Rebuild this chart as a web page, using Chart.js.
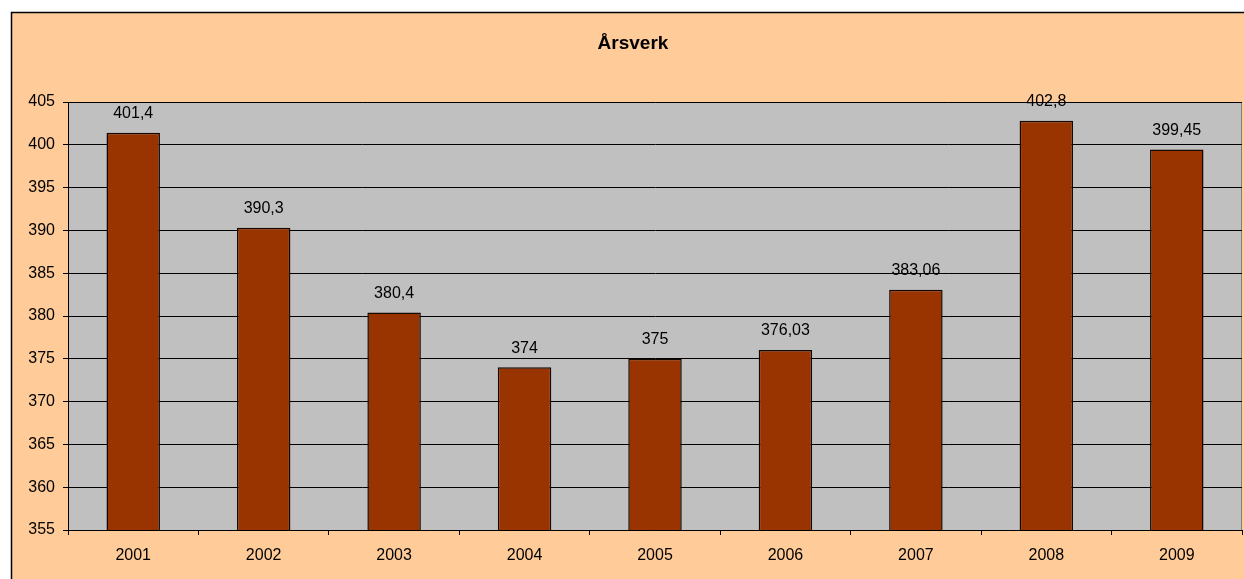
<!DOCTYPE html>
<html>
<head>
<meta charset="utf-8">
<script src="https://cdn.jsdelivr.net/npm/chart.js@4"></script>
<style>
  html, body { margin: 0; padding: 0; background: #fff; }
  #wrap { width: 1244px; height: 579px; position: relative; }
</style>
</head>
<body>
<div id="wrap"><canvas id="arsverkChart"></canvas></div>
<script>
// Årsverk per år
const aar = ['2001', '2002', '2003', '2004', '2005', '2006', '2007', '2008', '2009'];
const arsverk = [401.4, 390.3, 380.4, 374, 375, 376.03, 383.06, 402.8, 399.45];
const yMin = 355;
const yMax = 405;
const yStep = 5;

const FONT = 'Arial, "Liberation Sans", sans-serif';

// bakgrunn: hvit kant, fersken ramme, grått plotområde
const bakgrunn = {
    id: 'bakgrunn',
    beforeDraw(chart) {
        const ctx = chart.ctx;
        const a = chart.chartArea;
        ctx.save();
        ctx.fillStyle = '#ffffff';
        ctx.fillRect(0, 0, chart.width, chart.height);
        ctx.fillStyle = '#ffcc99';
        ctx.fillRect(11, 12, chart.width, chart.height);
        ctx.strokeStyle = '#000000';
        ctx.lineWidth = 1.5;
        ctx.beginPath();
        ctx.moveTo(11.5, chart.height);
        ctx.lineTo(11.5, 12.5);
        ctx.lineTo(chart.width, 12.5);
        ctx.stroke();
        ctx.fillStyle = '#c0c0c0';
        ctx.fillRect(a.left, a.top, a.right - a.left, a.bottom - a.top);
        ctx.strokeStyle = '#808080';
        ctx.lineWidth = 1;
        ctx.strokeRect(a.left + 0.5, a.top + 0.5, a.right - a.left - 1, a.bottom - a.top);
        // tittel
        ctx.fillStyle = '#000';
        ctx.font = 'bold 19px ' + FONT;
        ctx.textAlign = 'center';
        ctx.textBaseline = 'middle';
        ctx.fillText('Årsverk', 633, 44);
        ctx.restore();
    }
};

// verdier over søylene
const etiketter = {
    id: 'etiketter',
    afterDatasetsDraw(chart) {
        const ctx = chart.ctx;
        const meta = chart.getDatasetMeta(0);
        ctx.save();
        ctx.fillStyle = '#000';
        ctx.font = '16px ' + FONT;
        ctx.textAlign = 'center';
        ctx.textBaseline = 'middle';
        meta.data.forEach((bar, i) => {
            const tekst = String(arsverk[i]).replace('.', ',');
            ctx.fillText(tekst, bar.x, bar.y - 19);
        });
        ctx.restore();
    }
};

new Chart(document.getElementById('arsverkChart'), {
    type: 'bar',
    data: {
        labels: aar,
        datasets: [{
            data: arsverk,
            backgroundColor: '#993300',
            borderColor: '#140800',
            borderWidth: 1.5,
            borderSkipped: false,
            barPercentage: 0.41,
            categoryPercentage: 1
        }]
    },
    options: {
        responsive: true,
        maintainAspectRatio: false,
        animation: false,
        layout: { padding: { top: 102, right: 2, left: 0, bottom: 0 } },
        plugins: {
            legend: { display: false },
            title: { display: false },
            tooltip: { enabled: false }
        },
        scales: {
            x: {
                afterFit(scale) { scale.height = 49; },
                grid: {
                    offset: true,
                    drawOnChartArea: false,
                    drawTicks: true,
                    tickLength: 5,
                    color: '#000'
                },
                border: { color: '#000', width: 1 },
                ticks: {
                    color: '#000',
                    padding: 11,
                    font: { family: FONT, size: 16 }
                }
            },
            y: {
                min: yMin,
                max: yMax,
                afterFit(scale) { scale.width = 68; },
                grid: {
                    color: '#000',
                    tickLength: 5,
                    drawTicks: true
                },
                border: { color: '#000', width: 1 },
                ticks: {
                    stepSize: yStep,
                    color: '#000',
                    padding: 8,
                    font: { family: FONT, size: 16 }
                }
            }
        }
    },
    plugins: [bakgrunn, etiketter]
});
</script>
</body>
</html>
